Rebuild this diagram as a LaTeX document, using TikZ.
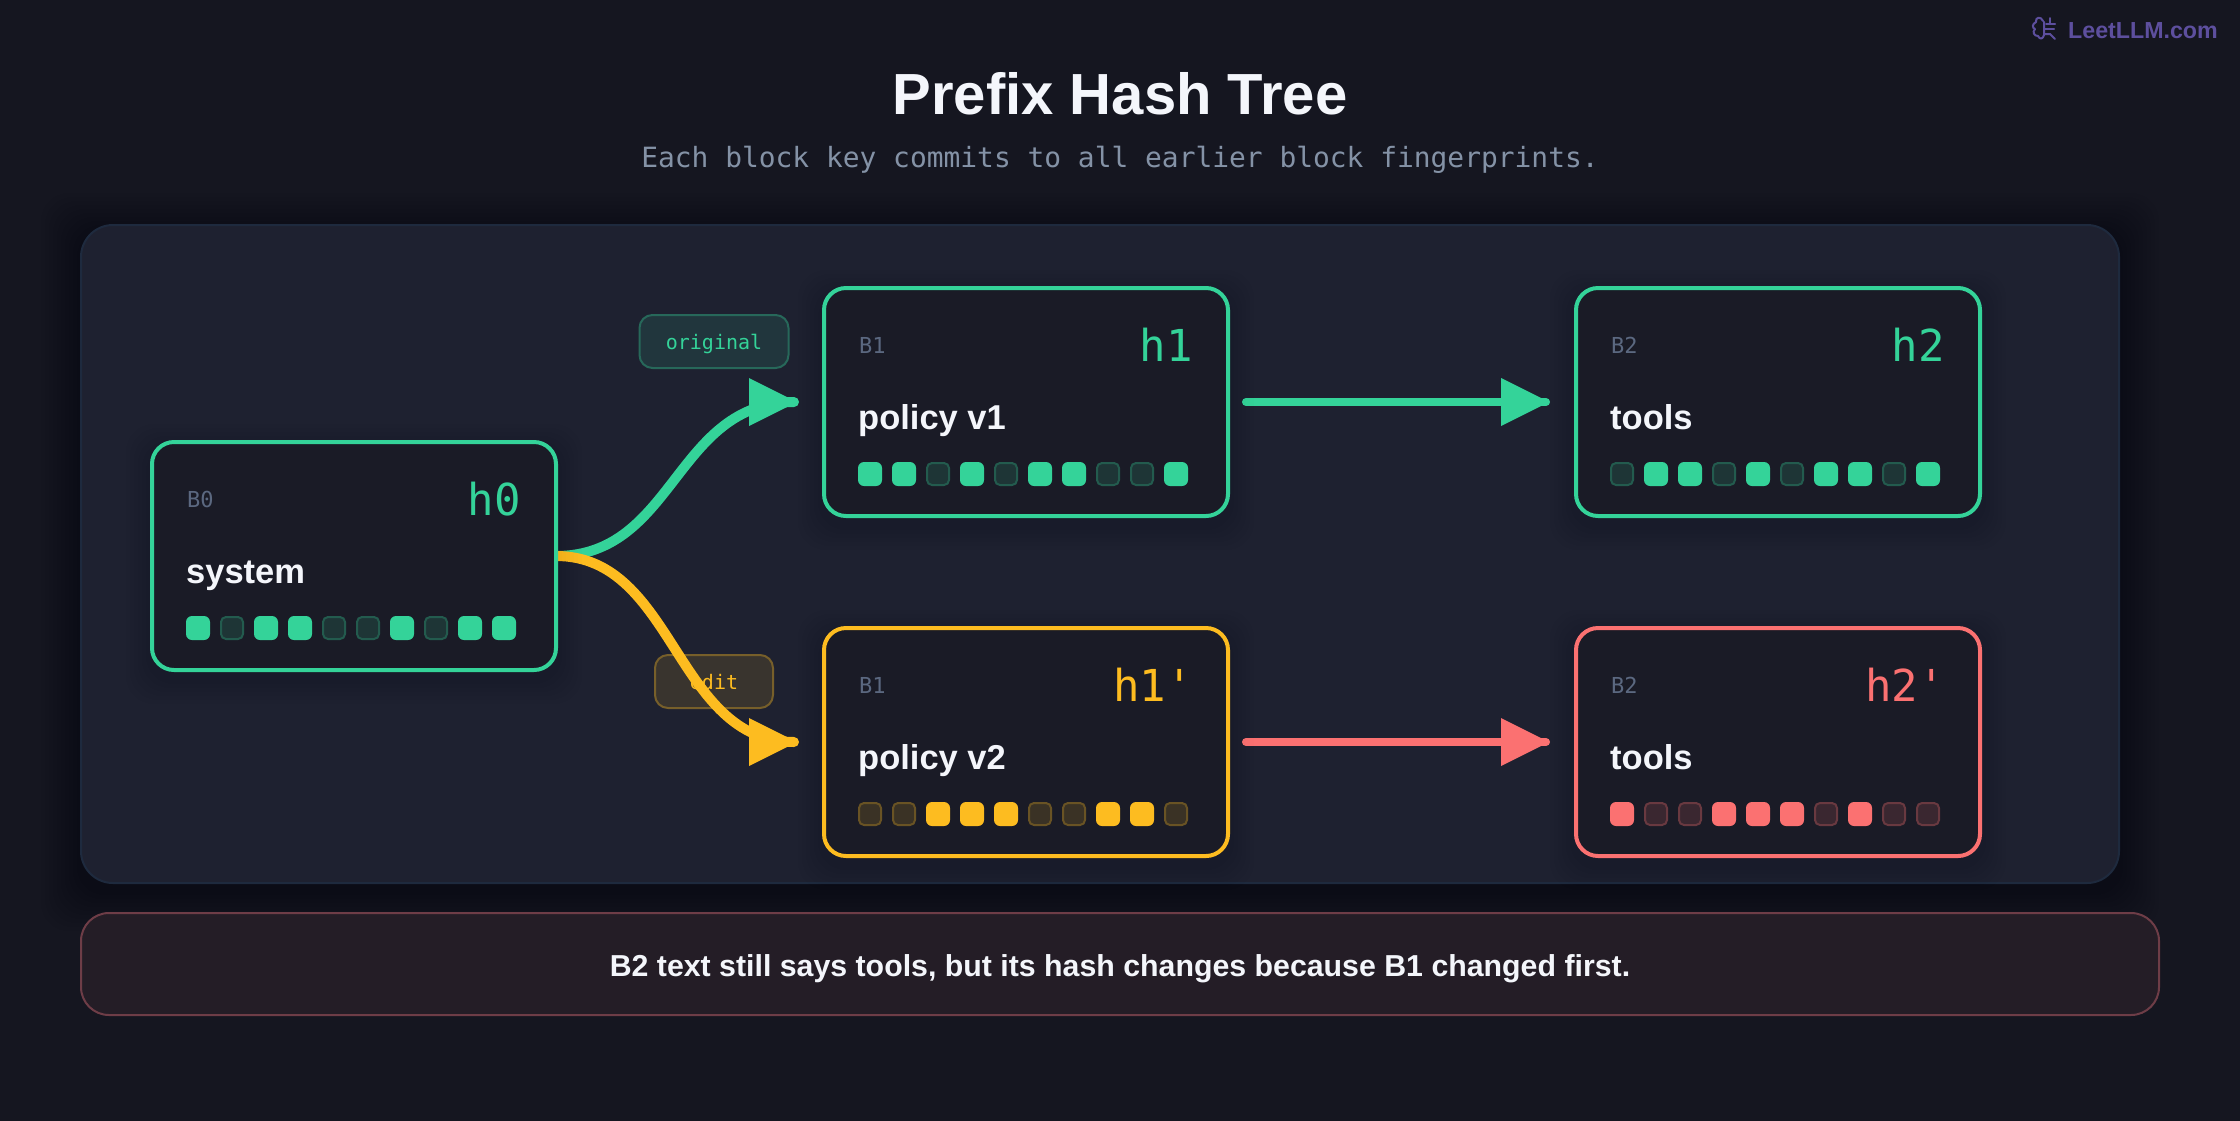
\documentclass[tikz,border=0pt]{standalone}
\usepackage{fontspec}
\setmainfont{Liberation Sans}
\newfontfamily\monof{DejaVu Sans Mono}
\usetikzlibrary{calc}
\definecolor{bgc}{HTML}{151620}
\definecolor{panelc}{HTML}{1E2130}
\definecolor{paneledge}{HTML}{1E2A3E}
\definecolor{cardc}{HTML}{1A1B26}
\definecolor{grn}{HTML}{34D399}
\definecolor{yel}{HTML}{FDBC20}
\definecolor{rdc}{HTML}{FB7171}
\definecolor{wht}{HTML}{F4F6FB}
\definecolor{subc}{HTML}{8492A6}
\definecolor{idc}{HTML}{5B6880}
\definecolor{wmc}{HTML}{5D4F9E}
\definecolor{notefill}{HTML}{241D26}
\definecolor{noteedge}{HTML}{6E3D47}
\newcommand{\fs}[1]{\fontsize{#1}{#1}\selectfont}
\tikzset{
  panelbox/.style={draw=paneledge,line width=2pt,fill=panelc,rounded corners=32pt,outer sep=0pt,inner sep=0pt},
  blockbox/.style={line width=4pt,fill=cardc,rounded corners=22pt,minimum width=404pt,minimum height=228pt,outer sep=0pt,inner sep=0pt},
  pill/.style={line width=2pt,rounded corners=13pt,minimum height=53pt,outer sep=0pt,inner sep=0pt},
  idtext/.style={anchor=base west,inner sep=0pt,text=idc,font=\monof\fs{22}},
  hashtext/.style={anchor=base east,inner sep=0pt,font=\monof\fs{44}},
  nametext/.style={anchor=base west,inner sep=0pt,text=wht,font=\bfseries\fs{34.5}},
  flowline/.style={line width=8pt,line cap=round},
  bendline/.style={line width=10pt,line cap=round},
}
% arrow head: base 45 behind the line end, tip 3 beyond it
\newcommand{\headat}[2]{\fill[#1] ($(#2)+(-45,-24)$) -- ($(#2)+(3,0)$) -- ($(#2)+(-45,24)$) -- cycle;}
% soft shadow: left, top, right, bottom, reach, opacity
\newcommand{\softshade}[6]{%
  \foreach \r in {4,8,...,#5}{%
    \fill[black,opacity=#6,rounded corners=28pt] (#1-\r,#2-\r+8) rectangle (#3+\r,#4+\r+8);
  }%
}
% name, left, top, colour, id, hash, text, pattern
\newcommand{\blockcard}[8]{%
  \softshade{#2}{#3}{#2+408}{#3+232}{24}{0.006}
  \node[blockbox,draw=#4] (#1) at (#2+204,#3+116) {};
  \node[idtext] (#1id) at (#2+37,#3+67.5) {#5};
  \node[hashtext,text=#4] (#1hash) at (#2+371,#3+75) {#6};
  \node[nametext] (#1name) at (#2+36,#3+143) {#7};
  \foreach \v [count=\i from 0] in {#8}{%
    \ifnum\v=1
      \node[minimum size=24pt,inner sep=0pt,outer sep=0pt,fill=#4,rounded corners=6pt] (#1d\i) at (#2+48+34*\i,#3+188) {};
    \else
      \node[minimum size=22pt,inner sep=0pt,outer sep=0pt,fill=#4!14!cardc,draw=#4!35!cardc,line width=2pt,rounded corners=5pt] (#1d\i) at (#2+48+34*\i,#3+188) {};
    \fi
  }%
}
\begin{document}
\begin{tikzpicture}[x=1pt,y=-1pt]
\useasboundingbox (0,0) rectangle (2240,1120);
\fill[bgc] (-6,-6) rectangle (2246,1126);
% watermark
\begin{scope}[wmc,line width=2pt,line cap=round,line join=round]
\draw (2043,21) .. controls (2041,16) and (2035,17) .. (2036,22)
  .. controls (2032,24) and (2032,28) .. (2035,29)
  .. controls (2032,32) and (2034,36) .. (2038,36)
  .. controls (2040,40) and (2043,39) .. (2044,35) -- (2044,22);
\draw (2046,24) -- (2055,24);
\draw (2050,18) -- (2050,24);
\draw (2045,29) -- (2054,29);
\draw (2044,34) -- (2050,34) -- (2055,39);
\end{scope}
\node[anchor=base west,inner sep=0pt,text=wmc,font=\bfseries\fs{23.2}] (wm) at (2068,38) {LeetLLM.com};
% title
\node[anchor=base,inner sep=0pt,text=wht,font=\bfseries\fs{58}] (title) at (1120,114) {Prefix Hash Tree};
\node[anchor=base,inner sep=0pt,text=subc,font=\monof\fs{27.9}] (sub) at (1120,167) {Each block key commits to all earlier block fingerprints.};
% panel
\softshade{81}{225}{2119}{883}{40}{0.006}
\node[panelbox,minimum width=2038pt,minimum height=658pt] (panel) at (1100,554) {};
% labels
\node[pill,draw=grn!40!panelc,fill=grn!12!panelc,minimum width=149pt] (lo) at (714,341.5) {};
\node[anchor=base,inner sep=0pt,text=grn,font=\monof\fs{20}] (lot) at (714,349.5) {original};
\node[pill,draw=yel!40!panelc,fill=yel!12!panelc,minimum width=118pt] (le) at (714,681.5) {};
\node[anchor=base,inner sep=0pt,text=yel,font=\monof\fs{20}] (let) at (714,689.5) {edit};
% anchors
\coordinate (inA) at (794,402);
\coordinate (inB) at (794,742);
\coordinate (outA) at (1246,402);
\coordinate (outB) at (1246,742);
\coordinate (inC) at (1546,402);
\coordinate (inD) at (1546,742);
\coordinate (s0) at (556,556);
% connectors
\draw[grn,bendline] (s0) .. controls (675,556) and (675,402) .. (inA);
\headat{grn}{inA}
\draw[yel,bendline] (s0) .. controls (675,556) and (675,742) .. (inB);
\headat{yel}{inB}
\draw[grn,flowline] (outA) -- (inC);
\headat{grn}{inC}
\draw[rdc,flowline] (outB) -- (inD);
\headat{rdc}{inD}
% cards
\blockcard{bz}{150}{440}{grn}{B0}{h0}{system}{1,0,1,1,0,0,1,0,1,1}
\blockcard{ba}{822}{286}{grn}{B1}{h1}{policy v1}{1,1,0,1,0,1,1,0,0,1}
\blockcard{bb}{1574}{286}{grn}{B2}{h2}{tools}{0,1,1,0,1,0,1,1,0,1}
\blockcard{bc}{822}{626}{yel}{B1}{h1'}{policy v2}{0,0,1,1,1,0,0,1,1,0}
\blockcard{bd}{1574}{626}{rdc}{B2}{h2'}{tools}{1,0,0,1,1,1,0,1,0,0}
% notice
\node[draw=noteedge,line width=2pt,fill=notefill,rounded corners=28pt,minimum width=2078pt,minimum height=102pt,inner sep=0pt,outer sep=0pt] (note) at (1120,964) {};
\node[anchor=base,inner sep=0pt,text=wht,font=\bfseries\fs{30.3}] (notet) at (1120,976) {B2 text still says tools, but its hash changes because B1 changed first.};
\end{tikzpicture}
\end{document}
